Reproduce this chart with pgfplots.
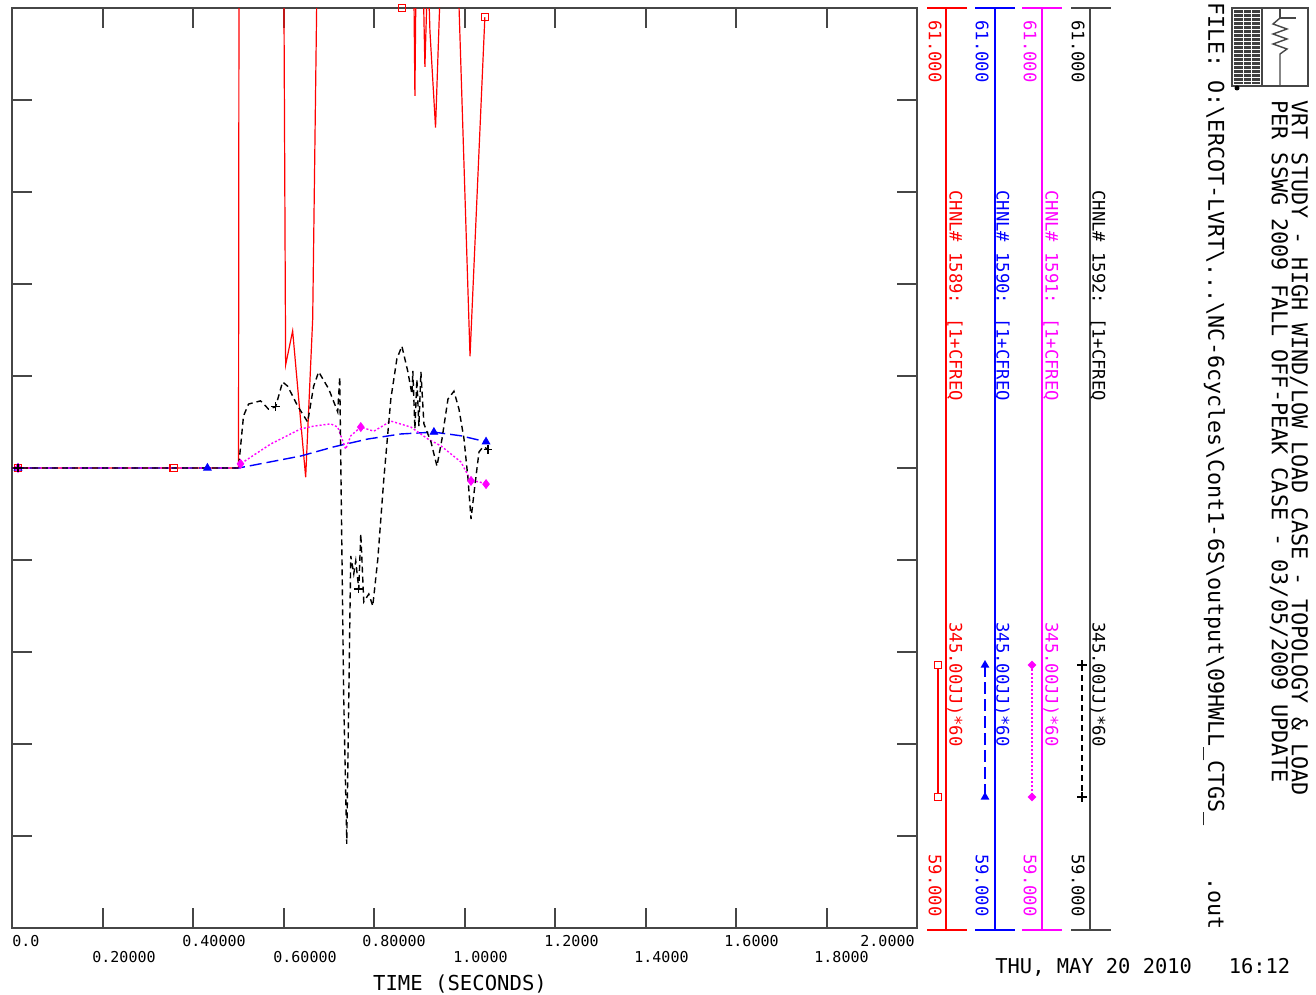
\documentclass[border=0pt]{standalone}
\usepackage{pgfplots}
\pgfplotsset{compat=1.18}
\usepackage{fontspec}
\setmainfont{DejaVu Sans Mono}
\newfontfamily\pf{DejaVu Sans Mono}
\usetikzlibrary{shapes.geometric}
\definecolor{frm}{RGB}{70,70,70}
\definecolor{mag}{RGB}{255,0,255}
\newcommand\ft[1]{\pf\fontsize{#1}{#1}\selectfont}
\begin{document}
\begin{tikzpicture}
\useasboundingbox (0,0) rectangle (658pt,-497.5pt);
\begin{axis}[at={(6pt,-464pt)}, anchor=south west, scale only axis,
  width=452.5pt, height=460pt,
  xmin=0, xmax=2, ymin=59, ymax=61,
  xtick={0.2,0.4,0.6,0.8,1.0,1.2,1.4,1.6,1.8},
  ytick={59.2,59.4,59.6,59.8,60.0,60.2,60.4,60.6,60.8},
  xticklabels={,,,,,,,,,}, yticklabels={,,,,,,,,,},
  tick align=inside, major tick length=10pt,
  axis line style={frm, line width=1pt},
  tick style={frm, line width=1pt}]
% CHNL 1589 (red)
\addplot[red, line width=0.6pt] coordinates {(0,60) (0.5006,60) (0.503,62.5) (0.594,62.5) (0.6047,60.224) (0.6202,60.298) (0.649,59.980) (0.6645,60.324) (0.6797,61.5) (0.8837,61.5) (0.8904,60.809) (0.8970,61.5) (0.9037,61.3) (0.9125,60.872) (0.9192,61.1) (0.9236,60.95) (0.936,60.74) (0.962,61.5) (0.972,61.5) (1.0122,60.243) (1.045,60.98)};
\addplot[red, only marks, mark=square, mark size=1.8pt, mark options={line width=0.6pt}] coordinates {(0.0133,60) (0.357,60) (0.8616,61.0) (1.045,60.98)};
% CHNL 1590 (blue)
\addplot[blue, line width=0.7pt, dash pattern=on 6pt off 2.5pt] coordinates {(0,60) (0.5006,60) (0.6379,60.026) (0.7110,60.046) (0.7863,60.063) (0.8594,60.074) (0.9324,60.078) (0.9922,60.070) (1.0476,60.057)};
\addplot[blue, only marks, mark=triangle*, mark size=2.2pt] coordinates {(0.0133,60) (0.4319,60) (0.9324,60.078) (1.0476,60.057)};
% CHNL 1591 (magenta)
\addplot[mag, line width=0.7pt, dash pattern=on 1pt off 1pt] coordinates {(0,60) (0.5006,60) (0.505,60.009) (0.5714,60.052) (0.6379,60.085) (0.6667,60.091) (0.7043,60.096) (0.7198,60.089) (0.7375,60.041) (0.7486,60.070) (0.7708,60.089) (0.7996,60.080) (0.8372,60.102) (0.8815,60.089) (0.9192,60.063) (0.9480,60.048) (0.9922,60.013) (1.0144,59.972) (1.0321,59.970) (1.0476,59.965)};
\addplot[mag, only marks, mark=diamond*, mark size=2.2pt] coordinates {(0.0133,60) (0.505,60.009) (0.7708,60.089) (1.0144,59.972) (1.0476,59.965)};
% CHNL 1592 (black)
\addplot[black, line width=0.7pt, dash pattern=on 3pt off 2pt] coordinates {(0,60) (0.5006,60) (0.5116,60.113) (0.5227,60.139) (0.5493,60.146) (0.5670,60.128) (0.5825,60.133) (0.5980,60.187) (0.6091,60.178) (0.6312,60.135) (0.6534,60.100) (0.6667,60.178) (0.6777,60.209) (0.6999,60.172) (0.7198,60.122) (0.7243,60.198) (0.7331,59.498) (0.7398,59.183) (0.7486,59.809) (0.7553,59.770) (0.7597,59.798) (0.7663,59.737) (0.7708,59.857) (0.7774,59.709) (0.7885,59.726) (0.7973,59.700) (0.8084,59.802) (0.8217,59.976) (0.8372,60.150) (0.8505,60.237) (0.8616,60.265) (0.8749,60.209) (0.8837,60.161) (0.8859,60.211) (0.8904,60.085) (0.8948,60.193) (0.8992,60.091) (0.9037,60.209) (0.9103,60.096) (0.9258,60.057) (0.9391,60.004) (0.9502,60.063) (0.9635,60.150) (0.9767,60.167) (0.9878,60.128) (0.9989,60.063) (1.0078,59.976) (1.0144,59.889) (1.0233,59.965) (1.0321,60.035) (1.0410,60.046) (1.0520,60.041)};
\addplot[black, only marks, mark=+, mark size=2.2pt, mark options={line width=0.6pt}] coordinates {(0.0133,60) (0.5825,60.133) (0.7663,59.737) (1.052,60.041)};
\end{axis}
\begin{scope}[x=0.5pt, y=-0.5pt]
% x tick labels
\node[anchor=west, inner sep=0] at (12,941) {\ft{7.5}0.0};
\node[anchor=west, inner sep=0] at (182,941) {\ft{7.5}0.40000};
\node[anchor=west, inner sep=0] at (362,941) {\ft{7.5}0.80000};
\node[anchor=west, inner sep=0] at (544,941) {\ft{7.5}1.2000};
\node[anchor=west, inner sep=0] at (724,941) {\ft{7.5}1.6000};
\node[anchor=east, inner sep=0] at (915,941) {\ft{7.5}2.0000};
\node[anchor=west, inner sep=0] at (92,957) {\ft{7.5}0.20000};
\node[anchor=west, inner sep=0] at (273,957) {\ft{7.5}0.60000};
\node[anchor=west, inner sep=0] at (453,957) {\ft{7.5}1.0000};
\node[anchor=west, inner sep=0] at (634,957) {\ft{7.5}1.4000};
\node[anchor=west, inner sep=0] at (814,957) {\ft{7.5}1.8000};
\node[inner sep=0] at (460,984) {\ft{10.3}TIME (SECONDS)};
% channel scales
\foreach \c/\tc/\xl/\xa/\xb/\xt/\xn/\nm in {red/red/946/927/967/935/955/1589, blue/blue/995/975/1015/982/1002/1590, mag/mag/1042/1022/1062/1030/1051/1591, frm/black/1090/1071/1111/1078/1098/1592}{
  \draw[\c, line width=0.8pt] (\xa,8) -- (\xb,8);
  \draw[\c, line width=0.8pt] (\xa,930) -- (\xb,930);
  \draw[\c, line width=0.8pt] (\xl,8) -- (\xl,930);
  \node[rotate=-90, anchor=west, inner sep=0, text=\tc] at (\xt,20) {\ft{8.6}61.000};
  \node[rotate=-90, anchor=east, inner sep=0, text=\tc] at (\xt,917) {\ft{8.6}59.000};
  \node[rotate=-90, anchor=west, inner sep=0, text=\tc] at (\xn,190) {\ft{8.6}CHNL\# \nm: [1+CFREQ};
  \node[rotate=-90, anchor=west, inner sep=0, text=\tc] at (\xn,622) {\ft{8.6}345.00JJ)*60};
}
% legend samples
\draw[red, line width=0.6pt] (938,665) -- (938,797);
\node[draw=red, rectangle, minimum size=3.5pt, inner sep=0, line width=0.6pt, fill=white] at (938,665) {};
\node[draw=red, rectangle, minimum size=3.5pt, inner sep=0, line width=0.6pt, fill=white] at (938,797) {};
\draw[blue, line width=0.7pt, dash pattern=on 6pt off 2.5pt] (985,665) -- (985,797);
\node[fill=blue, regular polygon, regular polygon sides=3, minimum size=5pt, inner sep=0] at (985,665) {};
\node[fill=blue, regular polygon, regular polygon sides=3, minimum size=5pt, inner sep=0] at (985,797) {};
\draw[mag, line width=0.7pt, dash pattern=on 1pt off 1pt] (1032,665) -- (1032,797);
\node[fill=mag, diamond, minimum size=4.5pt, inner sep=0] at (1032,665) {};
\node[fill=mag, diamond, minimum size=4.5pt, inner sep=0] at (1032,797) {};
\draw[black, line width=0.7pt, dash pattern=on 3pt off 2pt] (1082,665) -- (1082,797);
\draw[black, line width=0.6pt] (1077,665) -- (1087,665) (1082,660) -- (1082,670);
\draw[black, line width=0.6pt] (1077,797) -- (1087,797) (1082,792) -- (1082,802);
% header
\node[rotate=-90, anchor=west, inner sep=0] at (1299,100) {\ft{10.9}VRT STUDY - HIGH WIND/LOW LOAD CASE - TOPOLOGY \& LOAD};
\node[rotate=-90, anchor=west, inner sep=0] at (1279,100) {\ft{10.9}PER SSWG 2009 FALL OFF-PEAK CASE - 03/05/2009 UPDATE};
\node[rotate=-90, anchor=west, inner sep=0] at (1214,2) {\ft{10.85}FILE: O:\textbackslash ERCOT-LVRT\textbackslash ...\textbackslash NC-6cycles\textbackslash Cont1-6S\textbackslash output\textbackslash 09HWLL\_CTGS\_\ \ \ \ .out};
\node[anchor=west, inner sep=0] at (995,967) {\ft{10.2}THU, MAY 20 2010\ \ \ 16:12};
% logo
\fill[black!75] (1234,10) rectangle (1260,84);
\foreach \i in {14,18,...,82} \draw[white, line width=0.5pt] (1234,\i) -- (1260,\i);
\draw[white, line width=0.5pt] (1243,10) -- (1243,84) (1251,10) -- (1251,84);
\draw[frm, line width=1pt] (1232,8) rectangle (1308,86);
\draw[frm, line width=0.8pt] (1262,8) -- (1262,86);
\draw[frm, line width=0.7pt] (1280,8) -- (1280,18) -- (1296,18);
\draw[frm, line width=0.7pt] (1280,18) -- (1273,24) -- (1287,29) -- (1273,34) -- (1287,39) -- (1273,44) -- (1287,49) -- (1280,54) -- (1280,86);
\fill[black] (1237,88) circle (2.5);
\end{scope}
\end{tikzpicture}
\end{document}
